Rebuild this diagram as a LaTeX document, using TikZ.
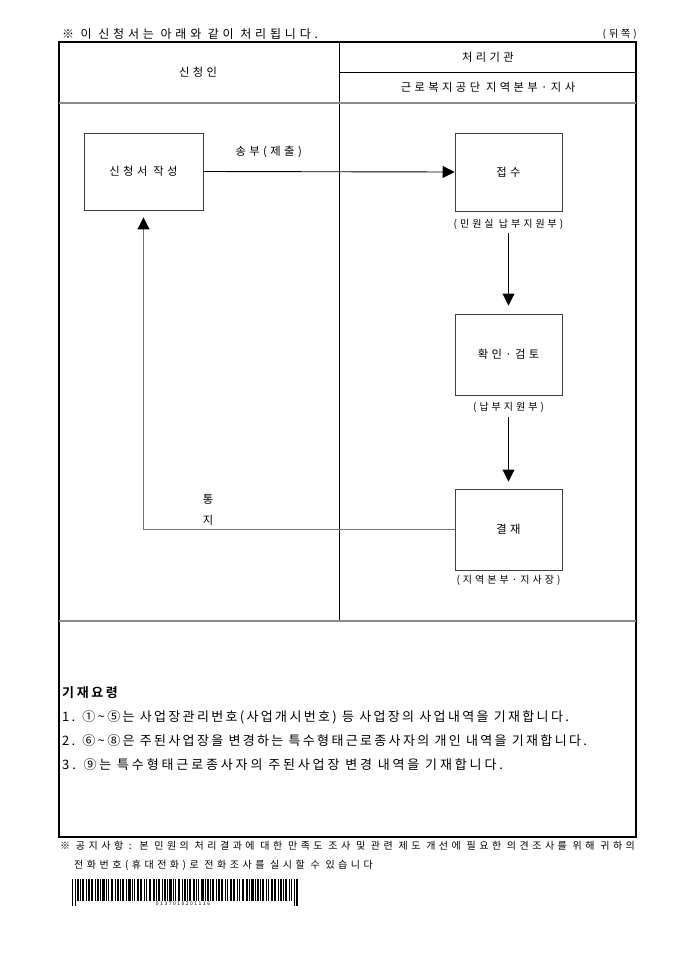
\documentclass[tikz,border=0pt]{standalone}
\usepackage{fontspec}
\setmainfont{Noto Sans CJK KR}[LetterSpace=30]
\newfontfamily\krbody{Noto Sans CJK KR}[LetterSpace=22]
\newfontfamily\krbodyb{Noto Sans CJK KR}[LetterSpace=18]
\newfontfamily\krtitle{Noto Sans CJK KR}[LetterSpace=32]
\newfontfamily\krnote{Noto Sans CJK KR}[LetterSpace=35]
\newfontfamily\krbold{Noto Sans CJK KR Bold}[LetterSpace=20]
\newcommand\tld{\char"7E\relax}
\usetikzlibrary{arrows.meta}
\begin{document}
\begin{tikzpicture}[x=1pt,y=-1pt,
  txt/.style={inner sep=0pt,font=\fontsize{11.3}{13}\selectfont},
  body/.style={inner sep=0pt,font=\krbody\fontsize{13}{15}\selectfont},
  bodyb/.style={inner sep=0pt,font=\krbodyb\fontsize{13}{15}\selectfont},
  small/.style={inner sep=0pt,font=\fontsize{10}{12}\selectfont},
  note/.style={inner sep=0pt,font=\krnote\fontsize{10}{12}\selectfont},
  pbox/.style={draw=black!75,line width=0.9pt,inner sep=0pt,font=\fontsize{11.3}{13}\selectfont},
  frame/.style={line width=1.3pt,black},
  grayline/.style={line width=1.6pt,black!45},
  thin/.style={line width=0.8pt,black},
  conn/.style={line width=0.9pt,black},
  gconn/.style={line width=1pt,black!55},
  tip/.style={-{Triangle[width=12pt,length=12pt,color=black]}}
]
\useasboundingbox (0,0) rectangle (680,962);
\fill[white] (0,0) rectangle (680,962);

% title
\node[inner sep=0pt,font=\krtitle\fontsize{12}{14}\selectfont,anchor=west] (title) at (62,34) {※ 이 신청서는 아래와 같이 처리됩니다.};
\node[small,anchor=east] (page) at (637,34) {(뒤쪽)};

% frame
\draw[frame] (59,42) rectangle (636,837);
\draw[thin] (339,42) -- (339,621);
\draw[thin] (339,72) -- (636,72);
\draw[grayline] (59,103) -- (636,103);
\draw[grayline] (59,621) -- (636,621);

% headers
\node[txt] (h1) at (198,72) {신청인};
\node[txt] (h2) at (488,57) {처리기관};
\node[txt] (h3) at (488,87) {근로복지공단 지역본부·지사};

% boxes
\node[pbox,minimum width=119pt,minimum height=77pt] (sin) at (143.5,171.5) {신청서 작성};
\node[pbox,minimum width=107pt,minimum height=78pt] (rcv) at (508.5,172) {접수};
\node[small] (rcvl) at (508.5,224) {(민원실 납부지원부)};
\node[pbox,minimum width=107pt,minimum height=81pt] (chk) at (508.5,354.5) {확인·검토};
\node[small] (chkl) at (508.5,407) {(납부지원부)};
\node[pbox,minimum width=107pt,minimum height=81pt] (apv) at (508.5,529.5) {결재};
\node[small] (apvl) at (508.5,580) {(지역본부·지사장)};

% connectors
\draw[conn,tip] (sin.east) -- (rcv.west) node[pos=0.26,txt,above=13pt] (send) {송부(제출)};
\draw[conn,tip,shorten <=4pt,shorten >=8pt] (rcvl.south) -- (chk.north);
\draw[conn,tip,shorten <=5pt,shorten >=7pt] (chkl.south) -- (apv.north);
\draw[gconn,tip,shorten >=7pt] (apv.west) -| (sin.south);
\node[txt] (t1) at (208,499) {통};
\node[txt] (t2) at (208,520) {지};

% instructions
\node[inner sep=0pt,anchor=west,font=\krbold\fontsize{13}{15}\selectfont] (gh) at (62,693) {기재요령};
\node[bodyb,anchor=west] (g1) at (62,717) {1. ①\tld⑤는 사업장관리번호(사업개시번호) 등 사업장의 사업내역을 기재합니다.};
\node[bodyb,anchor=west] (g2) at (62,741) {2. ⑥\tld⑧은 주된사업장을 변경하는 특수형태근로종사자의 개인 내역을 기재합니다.};
\node[body,anchor=west] (g3) at (62,765) {3. ⑨는 특수형태근로종사자의 주된사업장 변경 내역을 기재합니다.};

% notice
\node[note,anchor=west] (n1) at (60,846) {※ 공지사항 : 본 민원의 처리결과에 대한 만족도 조사 및 관련 제도 개선에 필요한 의견조사를 위해 귀하의};
\node[note,anchor=west] (n2) at (74,865) {전화번호(휴대전화)로 전화조사를 실시할 수 있습니다};

% barcode
\foreach \x/\w in {72/1.2,75/1,77/1.5,80/1,82/2,86/1,88/1.5,91/2,95/1,97/1.5,100/1,102/2.5,106/1,108/1,111/2,115/1,117/1.5,120/1,122/2,126/1,128/2.5,132/1,134/1,137/1.5,140/2,144/1,146/1,149/2,153/1.5,156/1,158/2,162/1,164/1.5,167/1,169/2.5,173/1,175/1,178/2,182/1,184/1.5,187/1,189/2,193/1.5,196/1,198/1,201/2.5,205/1,207/1.5,210/1,212/2,216/1,218/1.5,221/2,225/1,227/1,230/1.5,233/2,237/1,239/1,242/2,246/1.5,249/1,251/2.5,255/1,257/1.5,260/1,262/2,266/1,268/1,271/1.5,274/2,278/1,280/1.5,283/1,285/2,289/1,291/1.2,294/1,296/1.5}
  \fill[black] (\x,879) rectangle ++(\w,22);
\foreach \x/\w in {72/1.2,75/1,294/1,296/1.5}
  \fill[black] (\x,901) rectangle ++(\w,5);
\node[inner sep=0pt,font=\fontsize{5}{6}\selectfont] (bcn) at (183,904) {0137010201116};
\end{tikzpicture}
\end{document}
